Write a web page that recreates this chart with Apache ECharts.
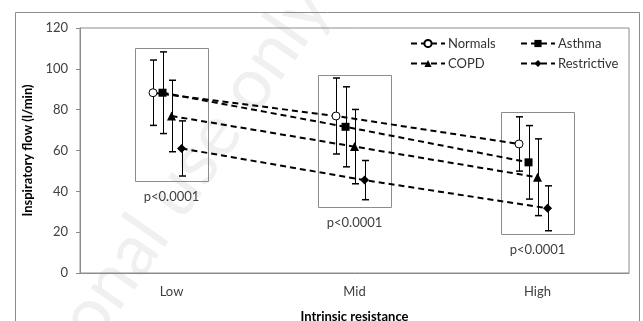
<!DOCTYPE html>
<html>
<head>
<meta charset="utf-8">
<script src="https://cdn.jsdelivr.net/npm/echarts@6/dist/echarts.min.js"></script>
<style>
  html, body { margin: 0; padding: 0; background: #fff; }
  #chart { width: 643px; height: 321px; }
</style>
</head>
<body>
<div id="chart"></div>
<script>
const categories = ['Low', 'Mid', 'High'];
const seriesNames = ['Normals', 'Asthma', 'COPD', 'Restrictive'];
const normals = [88.3, 76.9, 63.2];
const normalsErr = [16, 18.6, 13.3];
const asthma = [88.3, 71.6, 54.2];
const asthmaErr = [20, 19.6, 18];
const copd = [76.9, 61.9, 46.9];
const copdErr = [17.5, 18.2, 18.8];
const restrictive = [61, 45.5, 31.7];
const restrictiveErr = [13.5, 9.6, 11];
// grey boxes round each group, and the p value under each
const boxTop = [110.3, 97, 79];
const boxBottom = [45.2, 32.5, 19.1];
const pLabels = ['p<0.0001', 'p<0.0001', 'p<0.0001'];
const yTicks = [0, 20, 40, 60, 80, 100, 120];

const FONT = 'Lato';
const means = [normals, asthma, copd, restrictive];
const errs = [normalsErr, asthmaErr, copdErr, restrictiveErr];
const shift = [-0.101, -0.049, 0, 0.055]; // x shift of each group inside a category
const symbols = ['circle', 'rect', 'triangle', 'diamond'];
const sizes = [8, 8, 9, 9];

const myChart = echarts.init(document.getElementById('chart'));

const series = [];

// boxes + p labels
series.push({
  type: 'custom',
  xAxisIndex: 1,
  silent: true,
  z: 1,
  data: categories.map((c, i) => [i + 0.5, boxTop[i], boxBottom[i], i]),
  renderItem: (params, api) => {
    const x = api.value(0);
    const p1 = api.coord([x - 0.197, api.value(1)]);
    const p2 = api.coord([x + 0.203, api.value(2)]);
    const mid = api.coord([x, api.value(2)]);
    return {
      type: 'group',
      children: [
        {
          type: 'rect',
          shape: { x: Math.round(p1[0]) + 0.5, y: Math.round(p1[1]) + 0.5, width: Math.round(p2[0] - p1[0]), height: Math.round(p2[1] - p1[1]) },
          style: { fill: 'none', stroke: '#8c8c8c', lineWidth: 1 }
        },
        {
          type: 'text',
          x: mid[0],
          y: mid[1] + 16,
          style: { text: pLabels[api.value(3)], fill: '#404040', font: '13px ' + FONT, align: 'center', verticalAlign: 'middle' }
        }
      ]
    };
  }
});

seriesNames.forEach((name, s) => {
  // dashed line with markers
  series.push({
    name: name,
    type: 'line',
    xAxisIndex: 1,
    data: means[s].map((v, i) => [i + 0.5 + shift[s], v]),
    symbol: symbols[s],
    symbolSize: sizes[s],
    showAllSymbol: true,
    lineStyle: { color: '#000', width: 2, type: [6, 4] },
    itemStyle: s === 0 ? { color: '#fff', borderColor: '#000', borderWidth: 1 } : { color: '#000' },
    z: 3,
    animation: false
  });
  // error bars
  series.push({
    type: 'custom',
    xAxisIndex: 1,
    silent: true,
    z: 2,
    data: means[s].map((v, i) => [i + 0.5 + shift[s], v - errs[s][i], v + errs[s][i]]),
    renderItem: (params, api) => {
      const lo = api.coord([api.value(0), api.value(1)]);
      const hi = api.coord([api.value(0), api.value(2)]);
      const x = Math.round(lo[0]) + 0.5;
      const st = { stroke: '#000', lineWidth: 1 };
      return {
        type: 'group',
        children: [
          { type: 'line', shape: { x1: x, y1: hi[1], x2: x, y2: lo[1] }, style: st },
          { type: 'line', shape: { x1: x - 3.5, y1: hi[1], x2: x + 3.5, y2: hi[1] }, style: { stroke: '#000', lineWidth: 1.5 } },
          { type: 'line', shape: { x1: x - 3.5, y1: lo[1], x2: x + 3.5, y2: lo[1] }, style: { stroke: '#000', lineWidth: 1.5 } }
        ]
      };
    }
  });
});

const legendBase = {
  orient: 'vertical',
  top: 32,
  itemWidth: 34,
  itemHeight: 9,
  itemGap: 7,
  textStyle: { fontFamily: FONT, fontSize: 13, color: '#333', padding: [0, 0, 0, -2] }
};

const option = {
  backgroundColor: '#fff',
  animation: false,
  graphic: [
    {
      type: 'text',
      x: 343,
      y: 14,
      rotation: 55 * Math.PI / 180,
      z: -10,
      silent: true,
      style: { text: 'personal use only', font: '72px ' + FONT, fill: '#f0f0f0', align: 'right', verticalAlign: 'bottom' }
    },
    {
      type: 'rect',
      z: -5,
      silent: true,
      shape: { x: 15.5, y: 12.5, width: 624, height: 340 },
      style: { fill: 'none', stroke: '#8c8c8c', lineWidth: 1 }
    }
  ],
  grid: {
    left: 80, right: 14, top: 28, bottom: 48,
    outerBoundsMode: 'none',
    containLabel: false,
    show: true, borderColor: '#8c8c8c', borderWidth: 1, backgroundColor: 'transparent'
  },
  legend: [
    Object.assign({ left: 405, data: ['Normals', 'COPD'] }, legendBase),
    Object.assign({ left: 515, data: ['Asthma', 'Restrictive'] }, legendBase)
  ],
  xAxis: [
    {
      type: 'category',
      data: categories,
      boundaryGap: true,
      name: 'Intrinsic resistance',
      nameLocation: 'middle',
      nameGap: 37,
      nameTextStyle: { fontFamily: FONT, fontSize: 13, fontWeight: 'bold', color: '#000' },
      axisLine: { lineStyle: { color: '#8c8c8c' } },
      axisTick: { show: false },
      axisLabel: { fontFamily: FONT, fontSize: 13, color: '#404040', margin: 12 },
      splitLine: { show: false }
    },
    {
      type: 'value',
      min: 0,
      max: 3,
      show: false
    }
  ],
  yAxis: {
    type: 'value',
    min: yTicks[0],
    max: yTicks[yTicks.length - 1],
    interval: yTicks[1] - yTicks[0],
    name: 'Inspiratory flow (l/min)',
    nameLocation: 'middle',
    nameGap: 29,
    nameTextStyle: { fontFamily: FONT, fontSize: 13, fontWeight: 'bold', color: '#000' },
    axisLine: { show: true, lineStyle: { color: '#8c8c8c' } },
    axisTick: { show: true, length: 4, lineStyle: { color: '#8c8c8c' } },
    axisLabel: { fontFamily: FONT, fontSize: 13, color: '#404040', margin: 12 },
    splitLine: { show: false }
  },
  series: series
};

myChart.setOption(option);
</script>
</body>
</html>
